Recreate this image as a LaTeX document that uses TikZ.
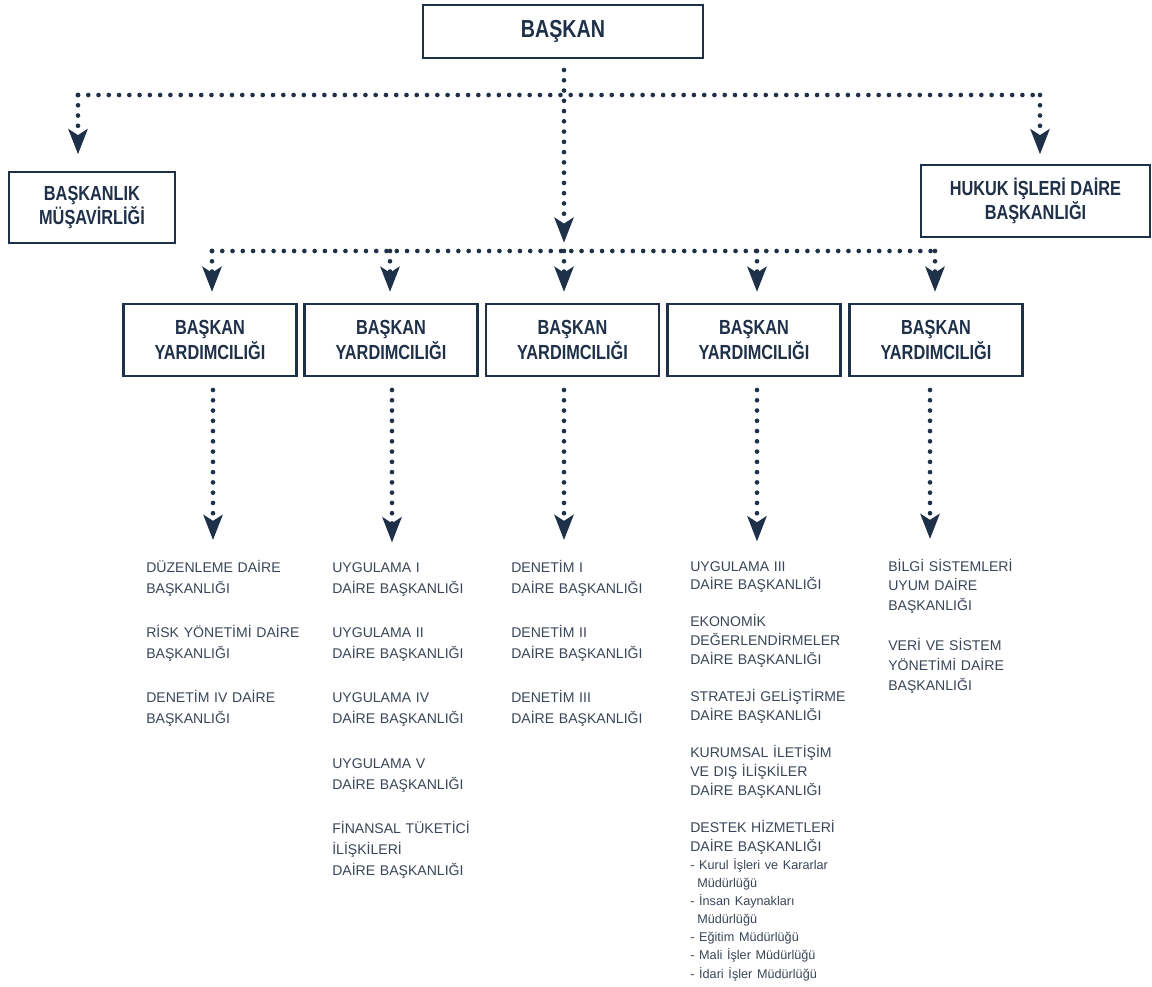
\documentclass[tikz,border=0pt]{standalone}
\usepackage{fontspec}
\setmainfont{Liberation Sans}
\newfontfamily\condfont[FakeStretch=0.8]{Liberation Sans}
\usepackage{xcolor}
\definecolor{navyLine}{HTML}{1F3049}
\definecolor{listGrey}{HTML}{3A4658}
\usepackage{tikz}
\usetikzlibrary{arrows.meta,positioning}
\tikzset{
  headbox/.style={
    draw=navyLine,
    line width=1.5pt,
    align=center,
    text=navyLine,
    font=\condfont\bfseries\fontsize{14.5}{17.5}\selectfont,
    inner sep=2pt
  },
  topbox/.style={
    headbox,
    minimum width=7cm,
    minimum height=1.325cm,
    font=\condfont\bfseries\fontsize{17.5}{20}\selectfont
  },
  deputybox/.style={
    headbox,
    minimum width=4.325cm,
    minimum height=1.8cm
  },
  unitlist/.style={
    anchor=base west,
    text width=4.3cm,
    align=left,
    inner sep=0pt,
    text=listGrey,
    font=\fontsize{10}{15}\selectfont
  },
  dotline/.style={
    draw=navyLine,
    line width=3.3pt,
    line cap=round,
    dash pattern=on 0pt off 7.3pt
  },
  dotarrow/.style={
    dotline,
    -{Stealth[length=18pt,width=14pt,inset=4.5pt,line width=0.8pt]}
  }
}

\begin{document}
\begin{tikzpicture}[x=0.025cm,y=-0.025cm]
  \useasboundingbox[fill=white] (0,0) rectangle (1152,987);
  \node[topbox] (baskan) at (563,31.5) {BAŞKAN};
  \node[headbox, minimum width=4.15cm, minimum height=1.775cm] (musavir) at (92,207.5) {BAŞKANLIK\\MÜŞAVİRLİĞİ};
  \node[headbox, minimum width=5.725cm, minimum height=1.8cm] (hukuk) at (1035.5,201) {HUKUK İŞLERİ DAİRE\\BAŞKANLIĞI};
  \foreach \i/\xx in {1/210,2/391,3/572.5,4/754,5/936}
    \node[deputybox] (dep\i) at (\xx,340) {BAŞKAN\\YARDIMCILIĞI};

  % units under each deputy
  \node[unitlist] (list1) at (146,572) {DÜZENLEME DAİRE\\BAŞKANLIĞI\\[16.5pt]RİSK YÖNETİMİ DAİRE\\BAŞKANLIĞI\\[16.5pt]DENETİM IV DAİRE\\BAŞKANLIĞI};
  \node[unitlist] (list2) at (332,572) {UYGULAMA I\\DAİRE BAŞKANLIĞI\\[16.5pt]UYGULAMA II\\DAİRE BAŞKANLIĞI\\[16.5pt]UYGULAMA IV\\DAİRE BAŞKANLIĞI\\[16.5pt]UYGULAMA V\\DAİRE BAŞKANLIĞI\\[16.5pt]FİNANSAL TÜKETİCİ\\İLİŞKİLERİ\\DAİRE BAŞKANLIĞI};
  \node[unitlist] (list3) at (511,572) {DENETİM I\\DAİRE BAŞKANLIĞI\\[16.5pt]DENETİM II\\DAİRE BAŞKANLIĞI\\[16.5pt]DENETİM III\\DAİRE BAŞKANLIĞI};
  \node[unitlist, font=\fontsize{10}{13.5}\selectfont] (list4) at (690,571) {UYGULAMA III\\DAİRE BAŞKANLIĞI\\[12.8pt]EKONOMİK\\DEĞERLENDİRMELER\\DAİRE BAŞKANLIĞI\\[12.8pt]STRATEJİ GELİŞTİRME\\DAİRE BAŞKANLIĞI\\[12.8pt]KURUMSAL İLETİŞİM\\VE DIŞ İLİŞKİLER\\DAİRE BAŞKANLIĞI\\[12.8pt]DESTEK HİZMETLERİ\\DAİRE BAŞKANLIĞI\par
    \fontsize{9}{12.8}\selectfont - Kurul İşleri ve Kararlar\\\hspace*{5pt}Müdürlüğü\\- İnsan Kaynakları\\\hspace*{5pt}Müdürlüğü\\- Eğitim Müdürlüğü\\- Mali İşler Müdürlüğü\\- İdari İşler Müdürlüğü};
  \node[unitlist, font=\fontsize{10}{14.2}\selectfont] (list5) at (888,571) {BİLGİ SİSTEMLERİ\\UYUM DAİRE\\BAŞKANLIĞI\\[14.2pt]VERİ VE SİSTEM\\YÖNETİMİ DAİRE\\BAŞKANLIĞI};

  % dotted connectors
  \coordinate (topOut) at (564,70);
  \coordinate (busL) at (78,95);
  \coordinate (busR) at (1040,95);
  \coordinate (hubL) at (212,251);
  \coordinate (hubR) at (935,251);
  \draw[dotline] (busL) -- (busR);
  \draw[dotarrow, shorten >=12pt] (busL) -- (busL |- musavir.north);
  \draw[dotarrow, shorten >=7pt] (busR) -- (busR |- hukuk.north);
  \draw[dotarrow, shorten >=6pt] (topOut) -- (topOut |- hubL);
  \draw[dotline] (hubL) -- (hubR);
  \foreach \i/\xx in {1/212,2/390,3/564,4/757,5/935}{
    \coordinate (drop\i) at (\xx,251);
    \draw[dotarrow, shorten >=8pt] (drop\i) -- (drop\i |- dep\i.north);
  }
  \foreach \i/\xx in {1/213,2/392,3/564,4/757,5/930}{
    \coordinate (feed\i) at (\xx,390);
    \draw[dotarrow, shorten >=14pt] (feed\i) -- (feed\i |- list\i.north);
  }
\end{tikzpicture}
\end{document}
